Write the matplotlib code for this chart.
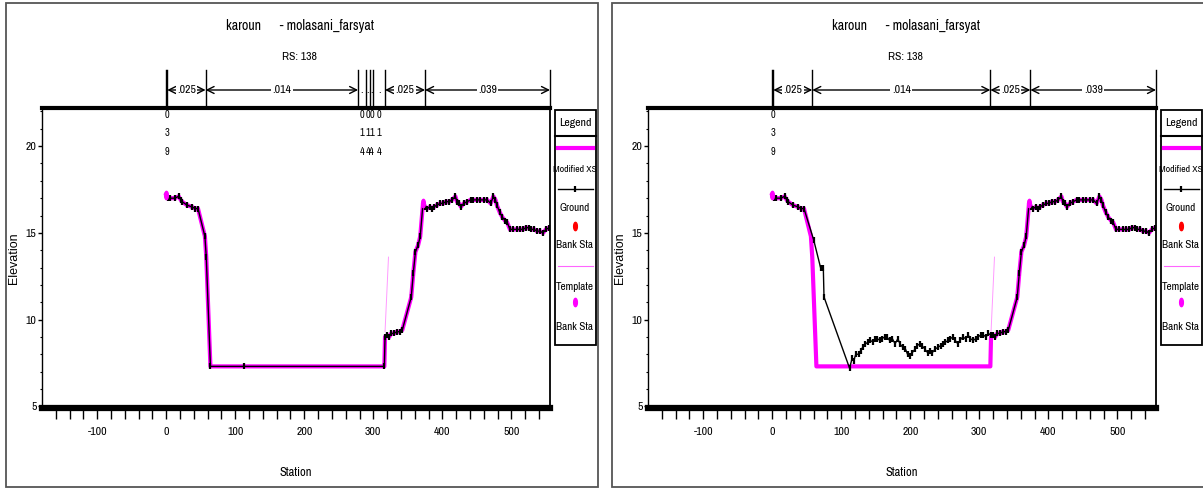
import matplotlib
matplotlib.use('Agg')
import matplotlib.pyplot as plt
from matplotlib import font_manager
from matplotlib.transforms import blended_transform_factory
from matplotlib.patches import Rectangle
from matplotlib.lines import Line2D
import numpy as np

# modified cross section (also the ground of the left plot)
mod_sta = [0, 3, 6, 12, 18, 21, 23, 30, 37, 42, 46, 56, 58, 64, 112, 316,
           317, 320, 323, 326, 330, 334, 338, 342, 355, 358, 361, 365, 368, 372,
           375, 378, 382, 385, 388, 392, 397, 401, 405, 410, 414, 419, 421, 424,
           427, 431, 436, 441, 445, 450, 455, 460, 465, 470, 474, 477, 479, 483,
           487, 491, 494, 498, 503, 508, 513, 517, 521, 525, 529, 533, 537, 541,
           546, 550, 555]
mod_elev = [17.2, 17.0, 17.0, 17.0, 17.1, 16.9, 16.8, 16.6, 16.5, 16.4, 16.4, 14.8, 13.6, 7.3, 7.3, 7.3,
            9.0, 9.1, 9.0, 9.2, 9.2, 9.3, 9.3, 9.4, 11.3, 12.7, 13.9, 14.3, 14.8, 16.7,
            16.5, 16.4, 16.5, 16.4, 16.5, 16.6, 16.7, 16.7, 16.8, 16.8, 16.9, 17.1, 16.8, 16.7,
            16.5, 16.7, 16.8, 16.9, 16.9, 16.9, 16.9, 16.9, 16.9, 16.7, 17.1, 16.9, 16.6, 16.2,
            15.9, 15.7, 15.6, 15.2, 15.2, 15.2, 15.2, 15.2, 15.3, 15.3, 15.2, 15.2, 15.1, 15.1,
            15.0, 15.2, 15.3]

# original ground in the channel (right plot), banks follow the modified section
gnd_sta = [0, 3, 6, 12, 18, 21, 23, 30, 37, 42, 46, 60, 70, 74, 75, 112,
           116, 118, 121, 125, 128, 131, 135, 139, 142, 146, 149, 152, 156, 159,
           163, 166, 170, 174, 178, 182, 185, 189, 193, 196, 200, 203, 207, 210,
           214, 217, 221, 225, 228, 232, 236, 240, 244, 248, 251, 255, 258, 262,
           265, 269, 272, 276, 280, 284, 287, 291, 295, 298, 302, 306, 310, 313,
           317, 320]
gnd_elev = [17.2, 17.0, 17.0, 17.0, 17.1, 16.9, 16.8, 16.6, 16.5, 16.4, 16.4, 14.6, 13.0, 13.0, 11.3, 7.2,
            7.8, 7.6, 8.0, 8.0, 8.2, 8.4, 8.6, 8.7, 8.8, 8.7, 8.9, 8.9, 8.8, 8.9,
            9.0, 9.0, 8.8, 8.9, 8.6, 8.9, 8.6, 8.4, 8.3, 8.0, 7.9, 8.1, 8.3, 8.5,
            8.6, 8.5, 8.3, 8.1, 8.2, 8.1, 8.3, 8.4, 8.5, 8.6, 8.7, 8.8, 8.9, 9.0,
            8.8, 8.6, 8.8, 9.0, 8.9, 9.1, 8.9, 8.8, 8.9, 9.0, 9.1, 9.1, 9.0, 9.2,
            9.1, 9.1]
gnd_sta = gnd_sta + [s for s in mod_sta if s > 320]
gnd_elev = gnd_elev + [e for s, e in zip(mod_sta, mod_elev) if s > 320]

templ_sta = [317, 322]
templ_elev = [9.3, 13.6]
bank_sta = [0, 372]
bank_elev = [17.2, 16.7]

# manning's n break stations and values
n_left_sta = [0, 1.5, 57, 278, 289, 295, 300, 317, 375, 556]
n_left_val = ['.039', '.025', '.014', '.014', '.014', '.014', '.014', '.025', '.039']
n_right_sta = [0, 1.5, 58, 316, 374, 556]
n_right_val = ['.039', '.025', '.014', '.025', '.039']

yticks = [5, 10, 15, 20]
xticks = [-100, 0, 100, 200, 300, 400, 500]

names = {f.name for f in font_manager.fontManager.ttflist}
NARROW = 'DejaVu Sans'
for cand in ['Archivo Narrow', 'Liberation Sans Narrow', 'Encode Sans Condensed']:
    if cand in names:
        NARROW = cand
        break
REG = 'Liberation Sans' if 'Liberation Sans' in names else 'DejaVu Sans'
plt.rcParams['font.family'] = NARROW
plt.rcParams['axes.unicode_minus'] = False

W, H = 1203, 488
fig = plt.figure(figsize=(W / 100, H / 100), dpi=100)
fig.patch.set_facecolor('white')


def fx(x):
    return x / W


def fy(y):
    return 1 - y / H


t = np.linspace(0, 2 * np.pi, 30)
ell = list(zip(0.45 * np.cos(t), np.sin(t)))


def ftext(x, y, s, **kw):
    fig.text(fx(x), fy(y), s, ha='center', va='center', **kw)


def draw_panel(x0, g_sta, g_elev, n_sta, n_val):
    fig.add_artist(Rectangle((fx(x0 + 6), fy(487)), 592 / W, 484 / H, transform=fig.transFigure,
                             fill=False, ec='#555555', lw=1.3))
    ax = fig.add_axes([fx(x0 + 42), fy(408), 508 / W, 300 / H])
    ax.plot(mod_sta, mod_elev, color='#ff00ff', lw=3, zorder=2)
    ax.plot(g_sta, g_elev, color='black', lw=1, marker='|', ms=5, mew=1.6, zorder=3)
    ax.plot(templ_sta, templ_elev, color='#ff99ff', lw=0.7, zorder=1)
    ax.plot(bank_sta, bank_elev, ls='none', marker=ell, ms=6, color='#ff00ff', zorder=4)

    ax.set_xlim(-180, 556)
    ax.set_ylim(4.9, 22.2)
    ax.set_xticks(xticks)
    ax.set_xticks(np.arange(-160, 556, 20), minor=True)
    ax.set_yticks(yticks)
    ax.set_yticks(np.arange(5, 23, 1), minor=True)
    ax.tick_params(axis='x', which='both', direction='out', length=8, width=1, labelsize=8.5, pad=6)
    ax.tick_params(axis='y', which='major', direction='out', length=3, width=1, labelsize=8.5, pad=1)
    ax.tick_params(axis='y', which='minor', direction='out', length=1.5, width=0.8)
    ax.spines['top'].set_linewidth(3)
    ax.spines['bottom'].set_linewidth(4.5)
    ax.spines['left'].set_linewidth(1)
    ax.spines['right'].set_linewidth(1.3)

    # manning's n bracket above the plot
    tr = blended_transform_factory(ax.transData, ax.transAxes)
    yb = 1.06
    for s in n_sta:
        ax.plot([s, s], [1.0, 1.127], color='black', lw=1, transform=tr, clip_on=False)
    for a, b, v in zip(n_sta[:-1], n_sta[1:], n_val):
        if b - a > 25:
            ax.annotate('', xy=(b, yb), xytext=(a, yb), xycoords=tr, textcoords=tr,
                        arrowprops=dict(arrowstyle='<->,head_length=0.5,head_width=0.25',
                                        lw=1, color='black', shrinkA=0, shrinkB=0),
                        annotation_clip=False)
            ax.text((a + b) / 2, yb, v, transform=tr, ha='center', va='center', fontsize=8.5,
                    zorder=5, clip_on=False, bbox=dict(fc='white', ec='none', pad=1))
        else:
            c = (a + b) / 2
            ax.text(c, yb, '.', transform=tr, ha='center', va='center', fontsize=8, clip_on=False)
            for ch, yy in zip(v[1:], [0.977, 0.917, 0.853]):
                ax.text(c, yy, ch, transform=tr, ha='center', va='center', fontsize=7.5)

    ftext(x0 + 300, 26, 'karoun      - molasani_farsyat', fontsize=10)
    ftext(x0 + 300, 57, 'RS: 138', fontsize=8.5)
    ftext(x0 + 296, 472, 'Station', fontsize=9)
    ftext(x0 + 14, 258, 'Elevation', fontsize=9, rotation=90, family=REG)

    # legend box
    fig.add_artist(Rectangle((fx(x0 + 555), fy(345)), 41 / W, 235 / H, transform=fig.transFigure,
                             fill=False, ec='black', lw=1.3))
    fig.add_artist(Line2D([fx(x0 + 555), fx(x0 + 596)], [fy(136), fy(136)], color='black', lw=1.5))
    ftext(x0 + 575, 123, 'Legend', fontsize=8.5)
    fig.add_artist(Line2D([fx(x0 + 558), fx(x0 + 593)], [fy(148), fy(148)], color='#ff00ff', lw=3))
    ftext(x0 + 575, 170, 'Modified XS', fontsize=7)
    fig.add_artist(Line2D([fx(x0 + 558), fx(x0 + 593)], [fy(189), fy(189)], color='black', lw=1))
    fig.add_artist(Line2D([fx(x0 + 575)], [fy(189)], marker='|', ms=5, mew=1.6, color='black'))
    ftext(x0 + 575, 208, 'Ground', fontsize=8)
    fig.add_artist(Line2D([fx(x0 + 575)], [fy(226)], marker=ell, ms=6, color='red', ls='none'))
    ftext(x0 + 575, 245, 'Bank Sta', fontsize=8)
    fig.add_artist(Line2D([fx(x0 + 558), fx(x0 + 593)], [fy(266), fy(266)], color='#ff66ff', lw=0.8))
    ftext(x0 + 575, 287, 'Template', fontsize=8)
    fig.add_artist(Line2D([fx(x0 + 575)], [fy(302)], marker=ell, ms=6, color='#ff00ff', ls='none'))
    ftext(x0 + 575, 327, 'Bank Sta', fontsize=8)
    return ax


draw_panel(0, mod_sta, mod_elev, n_left_sta, n_left_val)
draw_panel(606, gnd_sta, gnd_elev, n_right_sta, n_right_val)

fig.savefig('out.png', dpi=100, facecolor='white')
